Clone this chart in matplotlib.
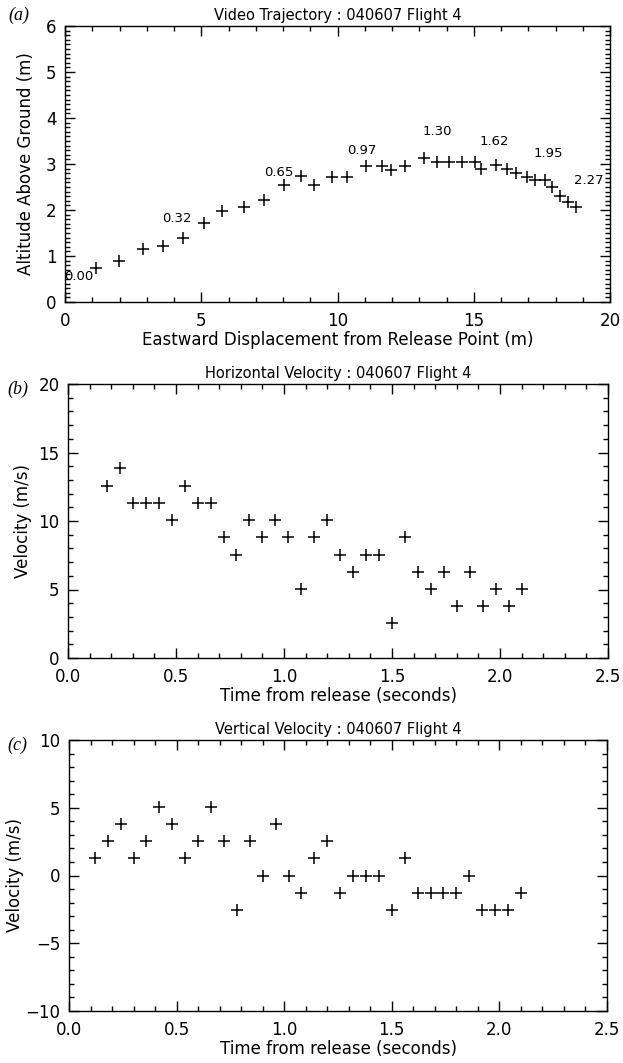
"""Recreates the three-panel flight 4 trajectory / velocity figure."""

import matplotlib.pyplot as plt
from matplotlib.ticker import MultipleLocator

# Panel (a): video trajectory
east = [1.12, 1.97, 2.87, 3.60, 4.33, 5.09, 5.76, 6.57, 7.30, 8.05, 8.66, 9.14,
        9.81, 10.36, 11.03, 11.62, 11.95, 12.49, 13.19, 13.66, 14.10, 14.56,
        15.03, 15.26, 15.80, 16.21, 16.55, 16.94, 17.24, 17.62, 17.86, 18.18,
        18.47, 18.76]
alt = [0.75, 0.90, 1.16, 1.22, 1.39, 1.72, 1.98, 2.06, 2.22, 2.55, 2.73, 2.55,
       2.72, 2.72, 2.95, 2.95, 2.88, 2.95, 3.13, 3.05, 3.05, 3.05, 3.05, 2.89,
       2.97, 2.90, 2.80, 2.72, 2.66, 2.66, 2.49, 2.31, 2.17, 2.07]
time_labels = ["0.00", "0.32", "0.65", "0.97", "1.30", "1.62", "1.95", "2.27"]
label_x = [0.50, 4.11, 7.83, 10.89, 13.66, 15.77, 17.74, 19.24]
label_y = [0.55, 1.82, 2.81, 3.30, 3.71, 3.48, 3.22, 2.64]

# Panel (b): horizontal velocity
t_h = [0.18, 0.24, 0.30, 0.36, 0.42, 0.48, 0.54, 0.60, 0.66, 0.72, 0.78, 0.84,
       0.90, 0.96, 1.02, 1.08, 1.14, 1.20, 1.26, 1.32, 1.38, 1.44, 1.50, 1.56,
       1.62, 1.68, 1.74, 1.80, 1.86, 1.92, 1.98, 2.04, 2.10]
v_h = [12.58, 13.84, 11.32, 11.32, 11.32, 10.07, 12.58, 11.32, 11.32, 8.81,
       7.55, 10.07, 8.81, 10.07, 8.81, 5.03, 8.81, 10.07, 7.55, 6.29, 7.55,
       7.55, 2.52, 8.81, 6.29, 5.03, 6.29, 3.77, 6.29, 3.77, 5.03, 3.77, 5.03]

# Panel (c): vertical velocity
t_v = [0.12, 0.18, 0.24, 0.30, 0.36, 0.42, 0.48, 0.54, 0.60, 0.66, 0.72, 0.78,
       0.84, 0.90, 0.96, 1.02, 1.08, 1.14, 1.20, 1.26, 1.32, 1.38, 1.44, 1.50,
       1.56, 1.62, 1.68, 1.74, 1.80, 1.86, 1.92, 1.98, 2.04, 2.10]
v_v = [1.26, 2.52, 3.78, 1.26, 2.52, 5.04, 3.78, 1.26, 2.52, 5.04, 2.52, -2.52,
       2.52, 0.0, 3.78, 0.0, -1.26, 1.26, 2.52, -1.26, 0.0, 0.0, 0.0, -2.52,
       1.26, -1.26, -1.26, -1.26, -1.26, 0.0, -2.52, -2.52, -2.52, -1.26]

W, H = 623, 1063
TICK_FS = 12
LABEL_FS = 12
TITLE_FS = 10.5


def style_axes(ax, xmaj, xmin, ymaj, ymin):
    """IDL-like frame: inward ticks on all four sides."""
    ax.xaxis.set_major_locator(MultipleLocator(xmaj))
    ax.xaxis.set_minor_locator(MultipleLocator(xmin))
    ax.yaxis.set_major_locator(MultipleLocator(ymaj))
    ax.yaxis.set_minor_locator(MultipleLocator(ymin))
    ax.tick_params(which="both", direction="in", top=True, right=True,
                   width=1.0, labelsize=TICK_FS)
    ax.tick_params(axis="x", which="major", length=7, pad=7)
    ax.tick_params(axis="y", which="major", length=7, pad=6)
    ax.tick_params(which="minor", length=3.5)
    for sp in ax.spines.values():
        sp.set_linewidth(1.0)


def add_ax(fig, left, right, top, bottom):
    return fig.add_axes([left / W, 1 - bottom / H, (right - left) / W,
                         (bottom - top) / H])


def plot():
    fig = plt.figure(figsize=(W / 100, H / 100), dpi=100)

    # (a)
    ax = add_ax(fig, 65, 610, 26, 302)
    ax.plot(east, alt, "k+", ms=9, mew=1.1)
    for txt, x, y in zip(time_labels, label_x, label_y):
        ax.text(x, y, txt, fontsize=9.5, ha="center", va="center")
    ax.set_xlim(0, 20)
    ax.set_ylim(0, 6)
    style_axes(ax, 5, 1, 1, 0.1)
    ax.set_title("Video Trajectory : 040607 Flight 4", fontsize=TITLE_FS, pad=4)
    ax.set_xlabel("Eastward Displacement from Release Point (m)",
                  fontsize=LABEL_FS, labelpad=1)
    ax.set_ylabel("Altitude Above Ground (m)", fontsize=LABEL_FS, labelpad=8)
    fig.text(8 / W, 1 - 15 / H, "(a)", family="Liberation Serif",
             style="italic", fontsize=13, va="center")

    # (b)
    ax = add_ax(fig, 68, 608, 384, 658)
    ax.plot(t_h, v_h, "k+", ms=8, mew=1.1)
    ax.set_xlim(0, 2.5)
    ax.set_ylim(0, 20)
    style_axes(ax, 0.5, 0.1, 5, 1)
    ax.xaxis.set_major_formatter("{x:.1f}")
    ax.set_title("Horizontal Velocity : 040607 Flight 4", fontsize=TITLE_FS,
                 pad=4)
    ax.set_xlabel("Time from release (seconds)", fontsize=LABEL_FS, labelpad=1)
    ax.set_ylabel("Velocity (m/s)", fontsize=LABEL_FS, labelpad=5)
    fig.text(7 / W, 1 - 389 / H, "(b)", family="Liberation Serif",
             style="italic", fontsize=13, va="center")

    # (c)
    ax = add_ax(fig, 69, 607, 740, 1011)
    ax.plot(t_v, v_v, "k+", ms=8, mew=1.1)
    ax.set_xlim(0, 2.5)
    ax.set_ylim(-10, 10)
    style_axes(ax, 0.5, 0.1, 5, 1)
    ax.xaxis.set_major_formatter("{x:.1f}")
    ax.set_title("Vertical Velocity : 040607 Flight 4", fontsize=TITLE_FS,
                 pad=4)
    ax.set_xlabel("Time from release (seconds)", fontsize=LABEL_FS, labelpad=1)
    ax.set_ylabel("Velocity (m/s)", fontsize=LABEL_FS, labelpad=1)
    fig.text(7 / W, 1 - 745 / H, "(c)", family="Liberation Serif",
             style="italic", fontsize=13, va="center")

    fig.savefig("out.png", dpi=100)


if __name__ == "__main__":
    plot()
